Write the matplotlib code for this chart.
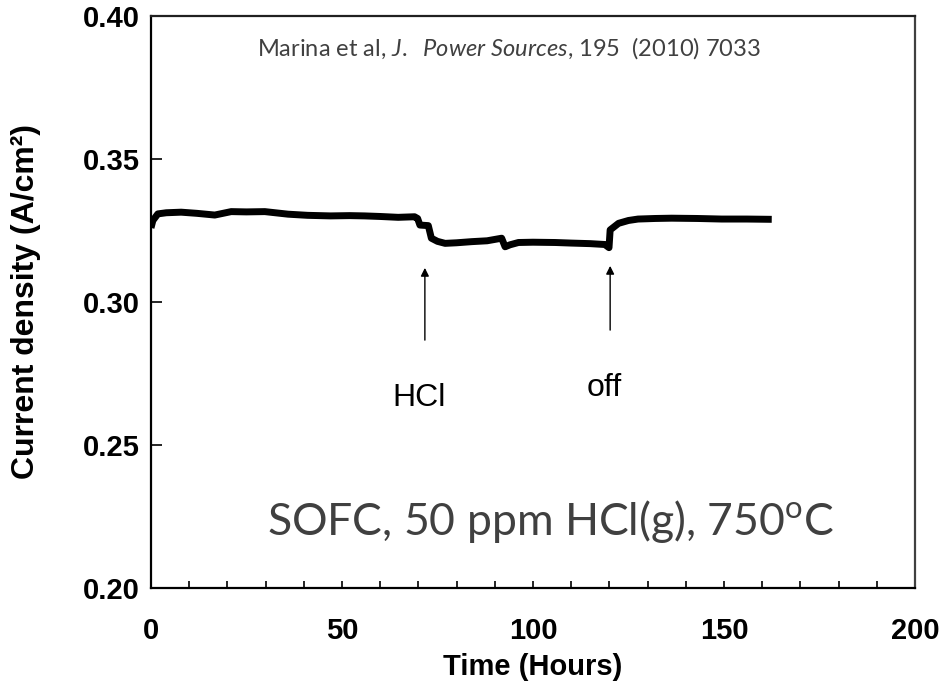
import matplotlib
matplotlib.use("Agg")
import matplotlib.pyplot as plt

plt.rcParams["mathtext.fontset"] = "custom"
plt.rcParams["mathtext.rm"] = "Lato"
plt.rcParams["mathtext.it"] = "Lato:italic"

# Data
time_h = [0.0, 0.5, 1.8, 4.0, 7.9, 12.0, 16.7, 21.0, 25.0, 29.8, 35.9, 41.0, 47.0, 52.0,
          55.9, 60.0, 64.7, 69.0, 69.8, 70.4, 72.6, 73.4, 75.0, 77.0, 80.0, 84.0, 88.0,
          91.8, 92.7, 94.0, 96.2, 100.0, 105.8, 110.0, 115.0, 118.8, 119.9, 120.2, 122.4,
          125.0, 127.5, 132.0, 136.3, 143.0, 149.4, 156.0, 162.5]
current = [0.3259, 0.3285, 0.3308, 0.3312, 0.3314, 0.3310, 0.3304, 0.3316, 0.3315, 0.3316,
           0.3307, 0.3303, 0.3301, 0.3302, 0.3301, 0.3299, 0.3296, 0.3298, 0.3292, 0.3269,
           0.3267, 0.3223, 0.3212, 0.3205, 0.3207, 0.3211, 0.3214, 0.3223, 0.3193, 0.3200,
           0.3208, 0.3209, 0.3208, 0.3206, 0.3204, 0.3201, 0.3190, 0.3252, 0.3275, 0.3285,
           0.3290, 0.3292, 0.3293, 0.3292, 0.3290, 0.3290, 0.3289]

x_ticks = [0, 50, 100, 150, 200]
y_ticks = [0.20, 0.25, 0.30, 0.35, 0.40]
y_tick_labels = ["0.20", "0.25", "0.30", "0.35", "0.40"]

arrow_x = [71.7, 120.2]
arrow_labels = ["HCl", "off"]

fig = plt.figure(figsize=(9.43, 6.92), dpi=100)
ax = fig.add_axes([0.1601, 0.1503, 0.8102, 0.8266])

ax.plot(time_h, current, color="black", lw=5.0, solid_capstyle="butt", solid_joinstyle="round")

ax.set_xlim(0, 200)
ax.set_ylim(0.20, 0.40)
ax.set_xticks(x_ticks)
ax.set_xticks(range(0, 201, 10), minor=True)
ax.set_yticks(y_ticks)
ax.set_yticklabels(y_tick_labels)
ax.tick_params(axis="x", which="both", direction="in", length=5, width=1.2, pad=21,
               labelsize=21, top=False)
ax.tick_params(axis="y", which="both", direction="in", length=8, width=1.2, pad=8,
               labelsize=21, right=False)
for lab in ax.get_xticklabels() + ax.get_yticklabels():
    lab.set_fontweight("bold")
    lab.set_family("Liberation Sans")

for s in ax.spines.values():
    s.set_linewidth(1.6)
    s.set_color("black")
ax.spines["right"].set_color("#404040")
ax.spines["top"].set_color("#202020")

ax.set_xlabel("Time (Hours)", fontsize=21, fontweight="bold", family="Liberation Sans", labelpad=6)
ax.set_ylabel("Current density (A/cm²)", fontsize=23, fontweight="bold", family="Liberation Sans", labelpad=30)

# Arrows
ax.annotate("", xy=(arrow_x[0], 0.3129), xytext=(arrow_x[0], 0.2857),
            arrowprops=dict(arrowstyle="-|>", color="black", lw=1.0, mutation_scale=12))
ax.annotate("", xy=(arrow_x[1], 0.3136), xytext=(arrow_x[1], 0.2892),
            arrowprops=dict(arrowstyle="-|>", color="black", lw=1.0, mutation_scale=12))
ax.text(70.2, 0.2665, arrow_labels[0], fontsize=23, family="Liberation Sans", ha="center", va="center")
ax.text(118.6, 0.2700, arrow_labels[1], fontsize=23, family="Liberation Sans", ha="center", va="center")

ax.text(0.468, 0.944, r"Marina et al, $\it{J.}$  $\it{Power\ Sources}$, 195  (2010) 7033",
        transform=ax.transAxes, fontsize=17, color="#404040", family="Lato",
        ha="center", va="center")
ax.text(0.5236, 0.117, "SOFC, 50 ppm HCl(g), 750$^{\\mathrm{o}}$C",
        transform=ax.transAxes, fontsize=32, color="#404040", family="Lato",
        ha="center", va="center")

fig.savefig("out.png", dpi=100)
